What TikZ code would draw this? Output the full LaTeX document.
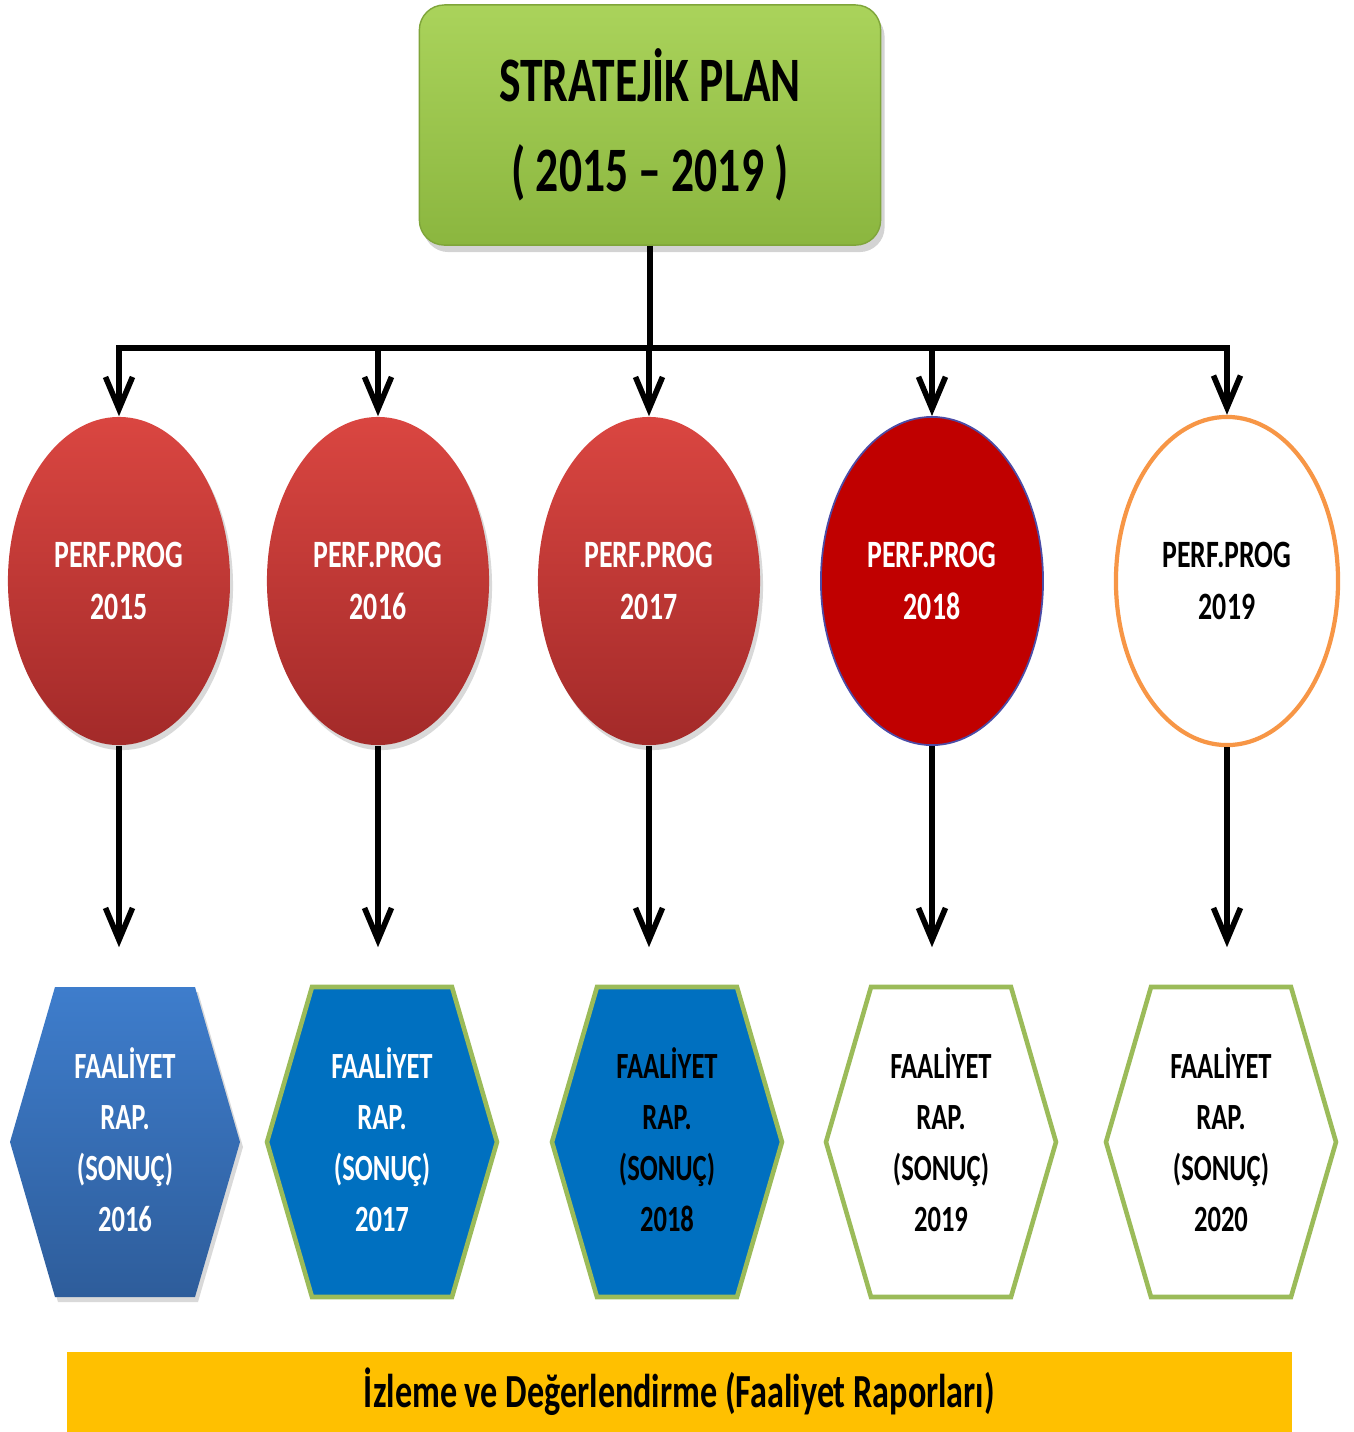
\documentclass[tikz,border=0pt]{standalone}
\usepackage{fontspec}
\newfontfamily\calib{Carlito}[FakeStretch=0.72]
\usetikzlibrary{arrows.meta,shapes.geometric,shadows}

\definecolor{planTop}{HTML}{AAD35B}
\definecolor{planBot}{HTML}{8BB63F}
\definecolor{planEdge}{HTML}{7FA53A}
\definecolor{redTop}{HTML}{DA4641}
\definecolor{redBot}{HTML}{A32A29}
\definecolor{darkRed}{HTML}{C00000}
\definecolor{ovalEdge}{HTML}{F79646}
\definecolor{hexTop}{HTML}{3E7DCC}
\definecolor{hexBot}{HTML}{2E5D9B}
\definecolor{hexBlue}{HTML}{0070C0}
\definecolor{hexEdge}{HTML}{9BBB59}
\definecolor{barYellow}{HTML}{FFC000}

\begin{document}
\begin{tikzpicture}[x=0.01cm,y=-0.01cm]
    \tikzstyle{arr}=[line width=1.6pt,-{Straight Barb[length=0.32cm,width=0.27cm]}]
    \tikzstyle{planbox}=[rectangle,rounded corners=0.25cm,draw=planEdge,top color=planTop,bottom color=planBot,
        minimum width=4.61cm,minimum height=2.4cm,align=center,
        drop shadow={shadow xshift=0.04cm,shadow yshift=-0.07cm,opacity=0.35},
        font=\calib\bfseries\fontsize{18}{25.5}\selectfont]
    \tikzstyle{perf}=[ellipse,minimum width=2.22cm,minimum height=3.28cm,inner sep=0pt,align=center,
        font=\calib\bfseries\fontsize{11}{14.8}\selectfont]
    \tikzstyle{redball}=[perf,top color=redTop,bottom color=redBot,text=white,
        drop shadow={shadow xshift=0.03cm,shadow yshift=-0.05cm,opacity=0.3}]
    \tikzstyle{rap}=[rectangle,minimum width=2.3cm,minimum height=3.1cm,inner sep=0pt,align=center,
        font=\calib\bfseries\fontsize{10.5}{14.5}\selectfont]
    \tikzstyle{hexline}=[draw=hexEdge,line width=1.3pt]
    \useasboundingbox (0,0) rectangle (1354,1432);
    \coordinate (busy) at (0,348);
    \node (plan) at (650,125) [planbox] {STRATEJİK PLAN\\( 2015 – 2019 )};
    % performance programmes
    \node (perf1) at (119,581) [redball] {PERF.PROG\\2015};
    \node (perf2) at (378,581) [redball] {PERF.PROG\\2016};
    \node (perf3) at (649,581) [redball] {PERF.PROG\\2017};
    \node (perf4) at (932,581) [perf,fill=darkRed,draw=blue!50!black!70,line width=0.5pt,text=white] {PERF.PROG\\2018};
    \node (perf5) at (1227,581) [perf,fill=white,draw=ovalEdge,line width=1.2pt] {PERF.PROG\\2019};
    % activity reports
    \shade[top color=hexTop,bottom color=hexBot,drop shadow={shadow xshift=0.03cm,shadow yshift=-0.05cm,opacity=0.3}]
        (10,1142) -- (55,987) -- (195,987) -- (240,1142) -- (195,1297) -- (55,1297) -- cycle;
    \draw[hexline,fill=hexBlue] (267,1142) -- (312,987) -- (452,987) -- (497,1142) -- (452,1297) -- (312,1297) -- cycle;
    \draw[hexline,fill=hexBlue] (552,1142) -- (597,987) -- (737,987) -- (782,1142) -- (737,1297) -- (597,1297) -- cycle;
    \draw[hexline,fill=white] (826,1142) -- (871,987) -- (1011,987) -- (1056,1142) -- (1011,1297) -- (871,1297) -- cycle;
    \draw[hexline,fill=white] (1106,1142) -- (1151,987) -- (1291,987) -- (1336,1142) -- (1291,1297) -- (1151,1297) -- cycle;
    \node (rap1) at (125,1140) [rap,text=white] {FAALİYET\\RAP.\\(SONUÇ)\\2016};
    \node (rap2) at (382,1140) [rap,text=white] {FAALİYET\\RAP.\\(SONUÇ)\\2017};
    \node (rap3) at (667,1140) [rap] {FAALİYET\\RAP.\\(SONUÇ)\\2018};
    \node (rap4) at (941,1140) [rap] {FAALİYET\\RAP.\\(SONUÇ)\\2019};
    \node (rap5) at (1221,1140) [rap] {FAALİYET\\RAP.\\(SONUÇ)\\2020};
    \node (izleme) at (679.5,1392) [rectangle,fill=barYellow,minimum width=12.25cm,minimum height=0.8cm,
        font=\calib\bfseries\fontsize{13.5}{16}\selectfont] {İzleme ve Değerlendirme (Faaliyet Raporları)};
    % connectors
    \draw [line width=1.6pt] (plan.south) -- (plan.south |- busy);
    \draw [arr] (perf3.north |- busy) -| (perf1.north);
    \draw [arr] (perf3.north |- busy) -| (perf5.north);
    \draw [arr] (perf2.north |- busy) -- (perf2.north);
    \draw [arr] (perf3.north |- busy) -- (perf3.north);
    \draw [arr] (perf4.north |- busy) -- (perf4.north);
    \draw [arr,shorten >=0.37cm] (perf1.south) -- (perf1.south |- rap1.north);
    \draw [arr,shorten >=0.37cm] (perf2.south) -- (perf2.south |- rap2.north);
    \draw [arr,shorten >=0.37cm] (perf3.south) -- (perf3.south |- rap3.north);
    \draw [arr,shorten >=0.37cm] (perf4.south) -- (perf4.south |- rap4.north);
    \draw [arr,shorten >=0.37cm] (perf5.south) -- (perf5.south |- rap5.north);
\end{tikzpicture}
\end{document}
